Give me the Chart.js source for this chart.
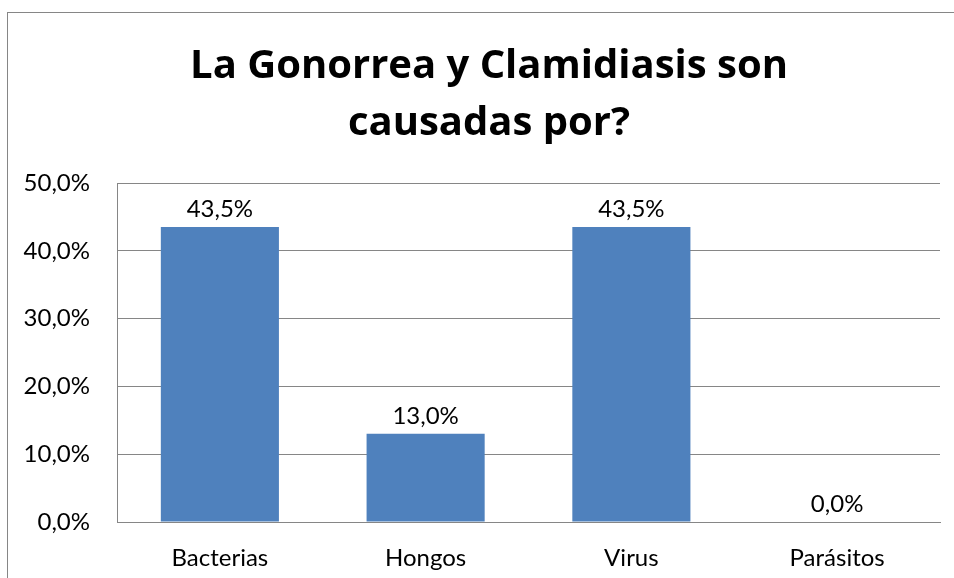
<!DOCTYPE html>
<html>
<head>
<meta charset="utf-8">
<script src="https://cdn.jsdelivr.net/npm/chart.js@4"></script>
<style>
    html, body { margin: 0; padding: 0; background: #fff; overflow: hidden; width: 954px; height: 578px; }
    #marco { position: absolute; left: 7px; top: 12px; width: 970px; height: 600px; border: 1px solid #868686; }
    #grafico { position: absolute; left: 0px; top: 0px; }
</style>
</head>
<body>
<div id="marco"><canvas id="grafico" width="962" height="565"></canvas></div>
<script>
// ==================== DATOS ====================
const categorias = ['Bacterias', 'Hongos', 'Virus', 'Parásitos'];
const porcentajes = [43.5, 13.0, 43.5, 0.0];
const ticksY = [0, 10, 20, 30, 40, 50];
const tituloLineas = ['La Gonorrea y Clamidiasis son', 'causadas por?'];

const fuente = 'Lato, "Open Sans", sans-serif';
const fuenteTitulo = '"Open Sans", Lato, sans-serif';
const gris = '#868686';

function formatoPct(v) {
    return v.toFixed(1).replace('.', ',') + '%';
}

// etiquetas encima de cada barra
const etiquetasBarras = {
    id: 'etiquetasBarras',
    afterDatasetsDraw(chart) {
        const ctx = chart.ctx;
        const meta = chart.getDatasetMeta(0);
        ctx.save();
        ctx.font = '24px ' + fuente;
        ctx.fillStyle = '#000';
        ctx.textAlign = 'center';
        ctx.textBaseline = 'bottom';
        meta.data.forEach((bar, i) => {
            ctx.fillText(formatoPct(porcentajes[i]), bar.x, bar.y - 6);
        });
        ctx.restore();
    }
};

const ctx = document.getElementById('grafico').getContext('2d');
window.graficoCausas = new Chart(ctx, {
    type: 'bar',
    data: {
        labels: categorias,
        datasets: [{
            data: porcentajes,
            backgroundColor: '#4F81BD',
            borderWidth: 0,
            categoryPercentage: 1,
            barPercentage: 0.574
        }]
    },
    options: {
        responsive: false,
        animation: false,
        layout: { padding: 0 },
        plugins: {
            legend: { display: false },
            tooltip: { enabled: false },
            title: {
                display: true,
                text: tituloLineas,
                color: '#000',
                font: { family: fuenteTitulo, size: 40, weight: 'bold', lineHeight: 57 / 40 },
                padding: { top: 25, bottom: 31 }
            }
        },
        scales: {
            y: {
                min: 0,
                max: 50,
                afterBuildTicks: (scale) => { scale.ticks = ticksY.map(v => ({ value: v })); },
                afterFit: (scale) => { scale.width = 109; },
                ticks: {
                    padding: 27,
                    color: '#000',
                    font: { family: fuente, size: 24 },
                    callback: (v) => formatoPct(v)
                },
                grid: { color: gris, lineWidth: 1, drawTicks: false },
                border: { display: true, color: gris, width: 1 }
            },
            // eje vacío a la derecha, solo para dejar margen
            margen: {
                position: 'right',
                afterFit: (scale) => { scale.width = 30; },
                ticks: { display: false },
                grid: { display: false, drawTicks: false },
                border: { display: false }
            },
            x: {
                afterFit: (scale) => { scale.height = 56; },
                ticks: {
                    padding: 22,
                    color: '#000',
                    font: { family: fuente, size: 24 }
                },
                grid: { display: false, drawTicks: false },
                border: { display: true, color: gris, width: 1 }
            }
        }
    },
    plugins: [etiquetasBarras]
});
</script>
</body>
</html>
